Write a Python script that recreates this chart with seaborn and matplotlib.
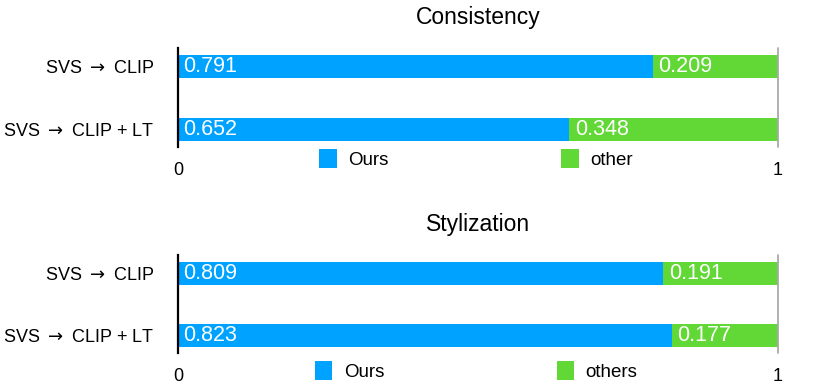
import matplotlib
matplotlib.use("Agg")
import matplotlib.pyplot as plt
from matplotlib.patches import Patch
import seaborn as sns

# data
rows = ["SVS $\\rightarrow$ CLIP", "SVS $\\rightarrow$ CLIP + LT"]
cons_ours = [0.791, 0.652]
cons_other = [0.209, 0.348]
styl_ours = [0.809, 0.823]
styl_other = [0.191, 0.177]

BLUE = "#00A2FF"
GREEN = "#61D836"

sns.set_theme(style="white")
plt.rcParams['font.family'] = ['Liberation Sans', 'DejaVu Sans']
plt.rcParams['text.color'] = 'black'
plt.rcParams['xtick.color'] = 'black'
plt.rcParams['ytick.color'] = 'black'
plt.rcParams['axes.labelcolor'] = 'black'
plt.rcParams['mathtext.fontset'] = 'dejavusans'

W, H = 830, 384
fig = plt.figure(figsize=(W / 100, H / 100), dpi=100)


def px_axes(top, bottom, left=178, right=778):
    return fig.add_axes([left / W, 1 - bottom / H, (right - left) / W, (bottom - top) / H])


def draw_panel(ax, title, ours, other, legend_labels, legend_y):
    total = [a + b for a, b in zip(ours, other)]
    sns.barplot(x=total, y=rows, orient="h", color=GREEN, saturation=1,
                width=0.365, ax=ax, linewidth=0)
    sns.barplot(x=ours, y=rows, orient="h", color=BLUE, saturation=1,
                width=0.365, ax=ax, linewidth=0)

    for i, (a, b) in enumerate(zip(ours, other)):
        ax.annotate(f"{a:.3f}", (0, i), xytext=(4, 0), textcoords="offset points",
                    color="white", fontsize=15.5, va="center", ha="left")
        ax.annotate(f"{b:.3f}", (a, i), xytext=(4, 0), textcoords="offset points",
                    color="white", fontsize=15.5, va="center", ha="left")

    ax.set_xlim(0, 1)
    ax.set_ylim(1.28, -0.30)
    ax.set_xticks([0, 1])
    ax.set_xticklabels(["0", "1"], fontsize=13)
    ax.tick_params(axis="x", length=0, pad=11)
    ax.tick_params(axis="y", length=0, pad=17, labelsize=13)
    ax.set_xlabel("")
    ax.set_ylabel("")
    for s in ["top", "bottom", "right"]:
        ax.spines[s].set_visible(False)
    ax.spines["left"].set_color("black")
    ax.spines["left"].set_linewidth(1.6)
    ax.axvline(1, color="#aaaaaa", lw=1.3, clip_on=False)
    ax.set_title(title, fontsize=16.5, pad=17, color="black")

    handles = [Patch(facecolor=BLUE, edgecolor="none"), Patch(facecolor=GREEN, edgecolor="none")]
    fig.legend(handles, legend_labels, loc="center", bbox_to_anchor=(476 / W, 1 - legend_y / H),
               ncol=2, frameon=False, fontsize=13.5, handlelength=0.95, handleheight=1.2,
               handletextpad=0.6, columnspacing=9.2, borderpad=0)


ax1 = px_axes(48, 147)
draw_panel(ax1, "Consistency", cons_ours, cons_other, ["Ours", "other"], 159)

ax2 = px_axes(255, 353)
draw_panel(ax2, "Stylization", styl_ours, styl_other, ["Ours", "others"], 371)

fig.savefig("out.png", dpi=100)
